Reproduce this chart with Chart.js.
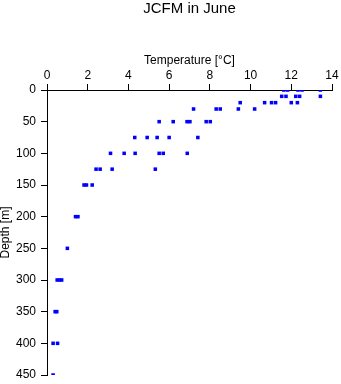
<!DOCTYPE html>
<html>
<head>
<meta charset="utf-8">
<script src="https://cdn.jsdelivr.net/npm/chart.js@4"></script>
<style>
  body { margin: 0; background: #fff; }
  #wrap { width: 341px; height: 384px; }
</style>
</head>
<body>
<div id="wrap"><canvas id="grafik" width="341" height="384"></canvas></div>
<script>
// Suhu (°C) dan kedalaman (m), dipasangkan per titik
const suhu = [
  11.63, 11.82, 12.33, 12.53, 13.43,
  11.53, 11.74, 12.22, 12.41, 13.43,
  9.49, 10.69, 11.03, 11.23, 12.00, 12.30,
  7.20, 8.31, 8.51, 9.40, 10.20,
  5.51, 6.20, 6.88, 7.02, 7.82, 8.02,
  4.31, 4.92, 5.41, 6.00, 7.41,
  3.12, 3.79, 4.33, 5.51, 5.71, 6.89,
  2.41, 2.61, 3.20, 5.32,
  1.82, 1.94, 2.22,
  1.40, 1.52,
  1.00,
  0.50, 0.62, 0.72,
  0.40, 0.48,
  0.30, 0.52,
  0.30
];
const kedalaman = [
  0, 0, 0, 0, 0,
  10, 10, 10, 10, 10,
  20, 20, 20, 20, 20, 20,
  30, 30, 30, 30, 30,
  50, 50, 50, 50, 50, 50,
  75, 75, 75, 75, 75,
  100, 100, 100, 100, 100, 100,
  125, 125, 125, 125,
  150, 150, 150,
  200, 200,
  250,
  300, 300, 300,
  350, 350,
  400, 400,
  450
];

const judul = "JCFM in June";
const labelX = "Temperature [°C]";
const labelY = "Depth [m]";

Chart.defaults.font.family = "'Liberation Sans', Arial, sans-serif";
Chart.defaults.color = "#000";

const titik = suhu.map((t, i) => ({ x: t, y: kedalaman[i] }));

const ctx = document.getElementById("grafik").getContext("2d");
window.grafik = new Chart(ctx, {
  type: "scatter",
  data: {
    datasets: [{
      label: judul,
      data: titik,
      pointStyle: "rect",
      pointRadius: 2.5,
      pointBorderWidth: 0,
      backgroundColor: "#0000ff",
      borderColor: "#0000ff"
    }]
  },
  options: {
    responsive: false,
    animation: false,
    layout: { padding: { left: 0, right: 9, top: 0, bottom: 9 } },
    plugins: {
      legend: { display: false },
      tooltip: { enabled: false },
      title: {
        display: true,
        fullSize: false, // judul di tengah area plot
        text: judul,
        font: { size: 15, weight: "normal" },
        padding: { top: 0, bottom: 11.2 }
      }
    },
    scales: {
      x: {
        type: "linear",
        position: "top",
        min: 0,
        max: 14,
        ticks: { stepSize: 2, font: { size: 12 }, padding: 1, maxRotation: 0 },
        grid: { drawOnChartArea: false, drawTicks: true, tickLength: 6, color: "#000" },
        border: { display: true, color: "#000", width: 1 },
        title: { display: true, text: labelX, font: { size: 12 }, padding: { top: 24, bottom: 0 } },
        afterFit: (skala) => {
          skala.height = 60.8;
          skala.paddingLeft = 0;
          skala.paddingRight = 0;
        }
      },
      y: {
        type: "linear",
        position: "left",
        reverse: true,
        min: 0,
        max: 450,
        ticks: { stepSize: 50, font: { size: 12 }, padding: 5 },
        grid: { drawOnChartArea: false, drawTicks: true, tickLength: 6, color: "#000" },
        border: { display: true, color: "#000", width: 1 },
        title: { display: true, text: labelY, font: { size: 12, lineHeight: 1 }, padding: { top: 0, bottom: 0 } },
        afterFit: (skala) => {
          skala.width = 47;
          skala.paddingTop = 0;
          skala.paddingBottom = 0;
        }
      }
    }
  }
});
</script>
</body>
</html>
